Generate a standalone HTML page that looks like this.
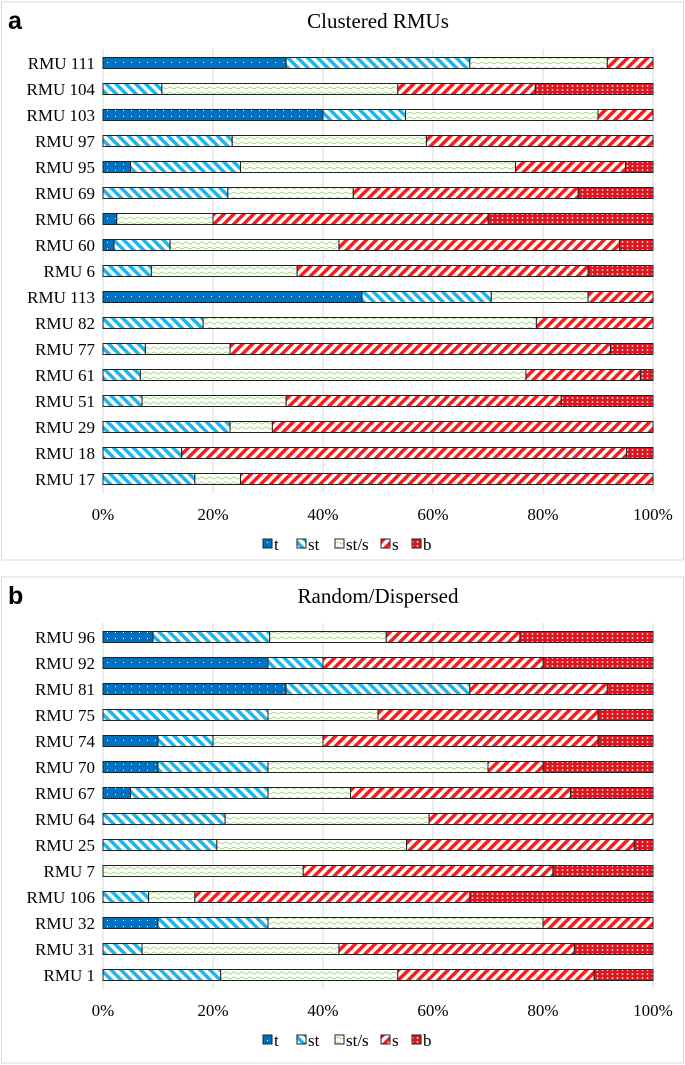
<!DOCTYPE html>
<html><head><meta charset="utf-8"><style>
html,body{margin:0;padding:0;background:#fff;}
svg{display:block;font-family:"Liberation Serif","Times New Roman",serif;}
svg text{font-family:"Liberation Serif","Times New Roman",serif;}
svg text.sans{font-family:"Liberation Sans",sans-serif;}
</style></head><body>
<svg id="chart" width="685" height="1065" viewBox="0 0 685 1065" xmlns="http://www.w3.org/2000/svg">
<defs>
<pattern id="p-t" width="8" height="6" patternUnits="userSpaceOnUse"><rect width="8" height="6" fill="#0070c0"/><rect x="3" y="2" width="1" height="1" fill="#fff"/></pattern>
<pattern id="p-st" width="7" height="7" patternUnits="userSpaceOnUse" patternTransform="rotate(-45)"><rect width="7" height="7" fill="#fff"/><rect width="3.5" height="7" fill="#1eb4ec"/></pattern>
<pattern id="p-sts" width="8" height="5" patternUnits="userSpaceOnUse"><rect width="8" height="5" fill="#fff"/><path d="M0 3 Q2 1 4 3 T8 3" stroke="#8cd45c" stroke-width="0.8" fill="none"/></pattern>
<pattern id="p-s" width="7" height="7" patternUnits="userSpaceOnUse" patternTransform="rotate(45)"><rect width="7" height="7" fill="#fff"/><rect width="3.5" height="7" fill="#ff1a1a"/></pattern>
<pattern id="p-b" width="5" height="4" patternUnits="userSpaceOnUse"><rect width="5" height="4" fill="#e0141c"/><circle cx="2.5" cy="2" r="0.9" fill="#fff"/></pattern>
</defs>
<g id="root"></g>
</svg>
<script>
const series = ['t','st','st/s','s','b'];
const catsA = ['RMU 111','RMU 104','RMU 103','RMU 97','RMU 95','RMU 69','RMU 66','RMU 60','RMU 6','RMU 113','RMU 82','RMU 77','RMU 61','RMU 51','RMU 29','RMU 18','RMU 17'];
const tA =   [33.3,0,40,0,5,0,2.5,2,0,47.1,0,0,0,0,0,0,0];
const stA =  [33.4,10.7,15,23.5,20,22.7,0,10.2,8.8,23.5,18.2,7.7,6.8,7.1,23.1,14.3,16.7];
const stsA = [25,42.9,35,35.3,50,22.8,17.5,30.7,26.5,17.6,60.6,15.4,70.1,26.2,7.7,0,8.3];
const sA =   [8.3,25,10,41.2,20,40.9,50,51,52.9,11.8,21.2,69.2,20.8,50,69.2,80.9,75];
const bA =   [0,21.4,0,0,5,13.6,30,6.1,11.8,0,0,7.7,2.3,16.7,0,4.8,0];
const catsB = ['RMU 96','RMU 92','RMU 81','RMU 75','RMU 74','RMU 70','RMU 67','RMU 64','RMU 25','RMU 7','RMU 106','RMU 32','RMU 31','RMU 1'];
const tB =   [9.1,30,33.3,0,10,10,5,0,0,0,0,10,0,0];
const stB =  [21.2,10,33.4,30,10,20,25,22.2,20.7,0,8.3,20,7.1,21.4];
const stsB = [21.2,0,0,20,20,40,15,37.1,34.5,36.4,8.4,50,35.8,32.2];
const sB =   [24.3,40,25,40,50,10,40,40.7,41.4,45.4,50,20,42.8,35.7];
const bB =   [24.2,20,8.3,10,10,20,15,0,3.4,18.2,33.3,0,14.3,10.7];
const ticks = ['0%','20%','40%','60%','80%','100%'];
const tickVals = [0,20,40,60,80,100];
const fills = ['url(#p-t)','url(#p-st)','url(#p-sts)','url(#p-s)','url(#p-b)'];
const NS='http://www.w3.org/2000/svg';
const root=document.getElementById('root');
const X0=103, X1=653;
const xs=v=>X0+(X1-X0)*v/100;
const legendX=[263,297,335,381,412];
function mk(tag,attrs,parent,text){const e=document.createElementNS(NS,tag);for(const k in attrs)e.setAttribute(k,attrs[k]);if(text!==undefined)e.textContent=text;(parent||root).appendChild(e);return e;}
function panel(key,letter,title,cats,vals,top,bottom,y0){
  const g=mk('g',{});
  
  
  const fr=mk('rect',{x:1.5,y:top,width:682,height:bottom-top,fill:'#fff',stroke:'#d9d9d9'},g);
  
  
  const l=mk('text',{x:8,y:top+27,'class':'sans','font-weight':'bold','font-size':25},g,letter);
  
  
  const tt=mk('text',{x:378,y:top+26,'text-anchor':'middle','font-size':21},g,title);
  
  
  const step=26;
  const gridTop=y0-14, gridBot=y0+(cats.length-1)*step+14;
  tickVals.forEach((v,i)=>{
    const gl=mk('line',{x1:xs(v),x2:xs(v),y1:gridTop,y2:gridBot,stroke:'#d9d9d9'},g);
    
    
    const tl=mk('text',{x:xs(v),y:gridBot+27,'text-anchor':'middle','font-size':17},g,ticks[i]);
    
    
  });
  cats.forEach((c,i)=>{
    const y=y0+i*step;
    const lab=mk('text',{x:95,y:y+6,'text-anchor':'end','font-size':17},g,c);
    
    
    let acc=0;
    vals.forEach((arr,s)=>{
      const v=arr[i]; if(v<=0) return;
      const r=mk('rect',{x:xs(acc),y:y-5.5,width:xs(acc+v)-xs(acc),height:11,fill:fills[s],stroke:'#222','stroke-width':1},g);
      
      
      acc+=v;
    });
  });
  const ly=gridBot+57;
  series.forEach((s,i)=>{
    const lx=legendX[i];
    const sw=mk('rect',{x:lx,y:ly-11,width:9,height:9,fill:fills[i],stroke:'#222'},g);
    
    
    const lt=mk('text',{x:lx+11,y:ly,'font-size':17},g,s);
    
    
  });
}
panel('a','a','Clustered RMUs',catsA,[tA,stA,stsA,sA,bA],2,560,63);
panel('b','b','Random/Dispersed',catsB,[tB,stB,stsB,sB,bB],577,1063,637);
</script>
</body></html>
